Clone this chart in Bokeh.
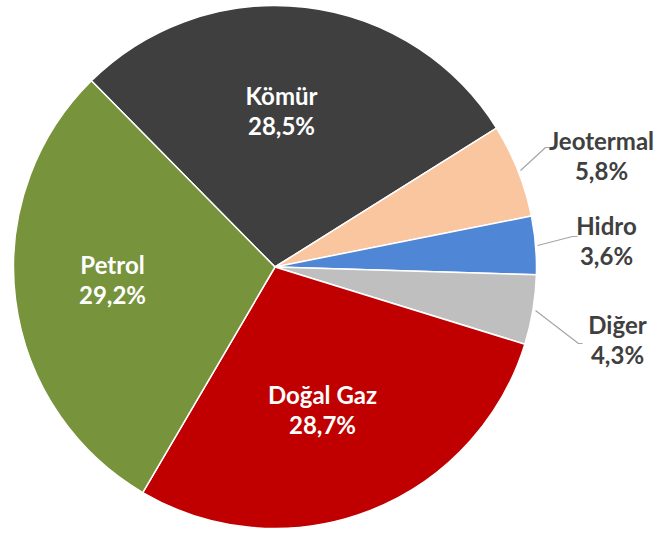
import math
from bokeh.plotting import figure
from bokeh.models import Range1d
from bokeh.core.properties import value
from bokeh.embed import file_html
from bokeh.resources import INLINE

# ---- data ----
categories = ["Kömür", "Jeotermal", "Hidro", "Diğer", "Doğal Gaz", "Petrol"]
shares = [28.5, 5.8, 3.6, 4.3, 28.7, 29.2]
share_labels = ["28,5%", "5,8%", "3,6%", "4,3%", "28,7%", "29,2%"]
slice_colors = ["#3f3f3f", "#f9c6a0", "#4f86d6", "#bfbfbf", "#c00000", "#77933c"]

# ---- layout (page pixel coordinates) ----
W, H = 656, 533
CX, CY, R = 274.5, 266.5, 261.5
START_DEG = 134.6
label_pos = {
    "Kömür": (281, 110, "white"),
    "Jeotermal": (601, 155, "#404040"),
    "Hidro": (606, 240, "#404040"),
    "Diğer": (617, 339, "#404040"),
    "Doğal Gaz": (322, 409, "white"),
    "Petrol": (112, 279, "white"),
}
leaders = {
    "Jeotermal": [(520, 170), (545, 147), (549, 147)],
    "Hidro": [(537, 245), (572, 236), (577, 236)],
    "Diğer": [(535, 310), (578, 343), (582, 343)],
}

def dx(px):
    return px

def dy(py):
    return H - py

p = figure(width=W, height=H, output_backend="svg", toolbar_location=None,
           x_range=Range1d(0, W), y_range=Range1d(0, H), min_border=0,
           background_fill_color="white", border_fill_color="white")
p.axis.visible = False
p.grid.visible = False
p.outline_line_color = None

total = sum(shares)
angles = [math.radians(START_DEG)]
for v in shares:
    angles.append(angles[-1] - v / total * 2 * math.pi)

p.wedge(x=[dx(CX)] * len(shares), y=[dy(CY)] * len(shares), radius=R,
        start_angle=angles[1:], end_angle=angles[:-1], direction="anticlock",
        fill_color=slice_colors, line_color="white", line_width=1.5)

for name, pts in leaders.items():
    p.line([dx(a) for a, b in pts], [dy(b) for a, b in pts],
           line_color="#a6a6a6", line_width=1.2)

FS = "24px"
for name, pct in zip(categories, share_labels):
    lx, ly, col = label_pos[name]
    p.text(x=[dx(lx)], y=[dy(ly - 15)], text=[name], text_align="center",
           text_baseline="middle", text_font=value("Lato"), text_font_style="bold",
           text_font_size=FS, text_color=col)
    p.text(x=[dx(lx)], y=[dy(ly + 15)], text=[pct], text_align="center",
           text_baseline="middle", text_font=value("Lato"), text_font_style="bold",
           text_font_size=FS, text_color=col)

open("out.html", "w").write(file_html(p, INLINE))
